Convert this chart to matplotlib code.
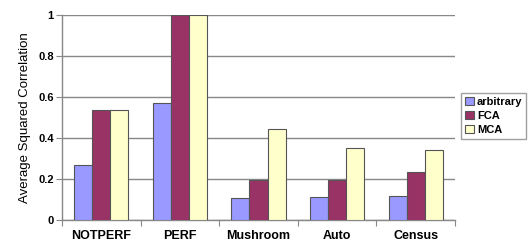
import numpy as np
import matplotlib.pyplot as plt

plt.rcParams['font.family'] = ['Liberation Sans', 'DejaVu Sans']

# data
categories = ['NOTPERF', 'PERF', 'Mushroom', 'Auto', 'Census']
arbitrary = [0.27, 0.57, 0.107, 0.11, 0.115]
fca = [0.535, 1.0, 0.195, 0.196, 0.235]
mca = [0.535, 1.0, 0.445, 0.349, 0.341]

series = [('arbitrary', arbitrary, '#9999FF'),
          ('FCA', fca, '#993366'),
          ('MCA', mca, '#FFFFCC')]

fig = plt.figure(figsize=(5.32, 2.46), dpi=100)
ax = fig.add_axes([62/532, 26/246, 393/532, 205/246])

x = np.arange(len(categories))
w = 0.23
for i, (name, vals, col) in enumerate(series):
    ax.bar(x + (i - 1) * w, vals, w, color=col, edgecolor='#555555',
           linewidth=0.8, label=name, zorder=3)

ax.set_xlim(-0.5, len(categories) - 0.5)
ax.set_ylim(0, 1)
ax.set_yticks([0, 0.2, 0.4, 0.6, 0.8, 1])
ax.set_yticklabels(['0', '0.2', '0.4', '0.6', '0.8', '1'], fontweight='bold', fontsize=8)
ax.yaxis.grid(True, color='#888888', linewidth=1, zorder=0)

# ticks between categories, labels at centres
ax.set_xticks(np.arange(len(categories) + 1) - 0.5)
ax.set_xticklabels([])
ax.set_xticks(x, minor=True)
ax.set_xticklabels(categories, minor=True, fontweight='bold', fontsize=9)
ax.tick_params(axis='x', which='minor', length=0, pad=7)
ax.tick_params(axis='x', which='major', length=4, color='#888888')
ax.tick_params(axis='y', length=4, color='#888888', pad=2)

for s in ['top', 'right']:
    ax.spines[s].set_visible(False)
for s in ['left', 'bottom']:
    ax.spines[s].set_color('#888888')
    ax.spines[s].set_linewidth(1)

ax.set_ylabel('Average Squared Correlation', fontsize=9.5, labelpad=5)

leg = ax.legend(loc='upper left', bbox_to_anchor=(1.015, 0.62),
                prop={'weight': 'bold', 'size': 8}, frameon=True, fancybox=False,
                handlelength=0.8, handleheight=0.8, handletextpad=0.3,
                borderpad=0.35, labelspacing=0.35, borderaxespad=0)
leg.get_frame().set_edgecolor('#888888')
leg.get_frame().set_linewidth(1)

plt.savefig('out.png', dpi=100)
